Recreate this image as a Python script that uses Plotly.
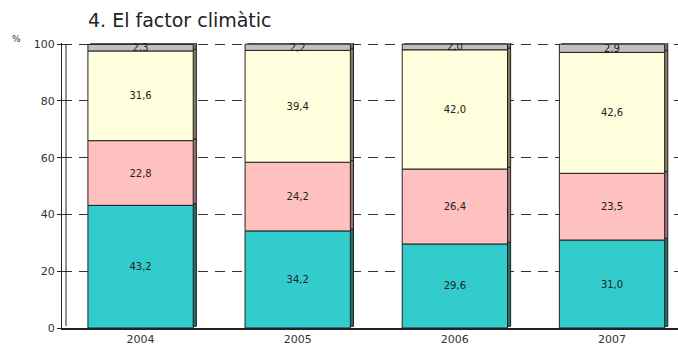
import plotly.graph_objects as go

years = ["2004", "2005", "2006", "2007"]
series_names = ["S1", "S2", "S3", "S4"]
s1 = [43.2, 34.2, 29.6, 31.0]
s2 = [22.8, 24.2, 26.4, 23.5]
s3 = [31.6, 39.4, 42.0, 42.6]
s4 = [2.3, 2.2, 2.0, 2.9]
y_ticks = [0, 20, 40, 60, 80, 100]

series = [s1, s2, s3, s4]
face_colors = ["#33CCCC", "#FFC0C0", "#FFFFDD", "#C0C0C0"]
side_colors = ["#1F6F6F", "#9A7070", "#808060", "#707070"]

W = 0.67
OFF = -W / 2
DX = 0.02   # depth offset (category units)
DY = 0.6    # depth offset (value units)

fig = go.Figure()

bases = []
cum = [0.0] * len(years)
for s in series:
    bases.append(cum[:])
    cum = [c + v for c, v in zip(cum, s)]

# depth (side) bars behind
for s, b, col in zip(series, bases, side_colors):
    fig.add_trace(go.Bar(
        x=years, y=s, base=[bb + DY for bb in b], width=W, offset=OFF + DX,
        marker=dict(color=col, line=dict(color="#222222", width=1)),
        hoverinfo="skip", showlegend=False))

# front faces
for name, s, b, col in zip(series_names, series, bases, face_colors):
    fig.add_trace(go.Bar(
        x=years, y=s, base=b, width=W, offset=OFF, name=name,
        marker=dict(color=col, line=dict(color="#222222", width=1)),
        text=[f"{v:.1f}".replace(".", ",") for v in s],
        textposition="inside", insidetextanchor="middle",
        textfont=dict(family="DejaVu Sans", size=10, color="#222222"),
        showlegend=False))

fig.update_layout(
    barmode="overlay",
    width=678, height=347,
    margin=dict(l=62, r=0, t=43, b=19),
    paper_bgcolor="white", plot_bgcolor="white",
    font=dict(family="DejaVu Sans", size=10, color="#333333"),
    uniformtext=dict(mode="show", minsize=10),
    title=dict(text="4. El factor climàtic", x=88 / 678, xanchor="left",
               xref="container", y=1 - 20 / 347, yanchor="middle", yref="container",
               font=dict(family="DejaVu Sans", size=19, color="#222222")),
    xaxis=dict(type="category", range=[-0.5, 3.42], showgrid=False,
               showline=True, linecolor="#222222", linewidth=2,
               ticks="", tickfont=dict(size=11, color="#333333")),
    yaxis=dict(range=[0, 100.4], tickvals=y_ticks, showgrid=True,
               gridcolor="#333333", griddash="10px,7px", gridwidth=1,
               showline=True, linecolor="#222222", linewidth=1,
               ticks="outside", ticklen=4, tickcolor="#222222",
               tickfont=dict(size=11, color="#333333"), zeroline=False),
    annotations=[dict(text="%", xref="paper", yref="paper", xanchor="center",
                      x=(16 - 62) / 616, y=(328 - 32) / 285, showarrow=False,
                      font=dict(size=9, color="#333333"))],
    shapes=[dict(type="line", xref="paper", yref="paper",
                 x0=4 / 616, x1=4 / 616, y0=2 / 285, y1=0.996,
                 line=dict(color="#222222", width=1))],
)

fig.write_html("out.html", config={"displayModeBar": False},
               post_script="document.body.style.margin='0';")
